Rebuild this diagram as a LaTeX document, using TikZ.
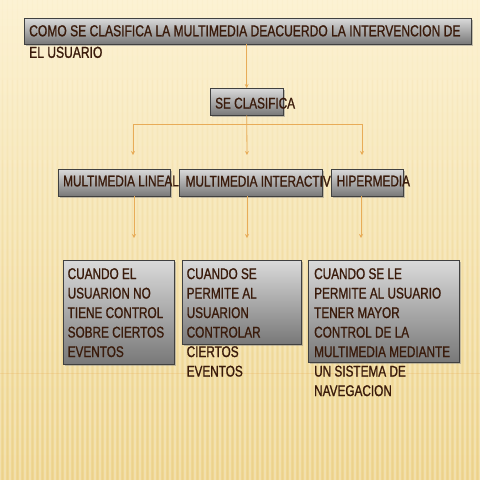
\documentclass[tikz,border=0pt]{standalone}
\usepackage{fontspec}
\setmainfont[FakeStretch=0.76,FakeBold=1.1]{Liberation Sans}
\usetikzlibrary{shadows,arrows.meta}

\definecolor{fondoarriba}{HTML}{FCF2D3}
\definecolor{fondoabajo}{HTML}{EFD691}
\definecolor{raya}{HTML}{E3C57A}
\definecolor{flecha}{HTML}{E8AC58}
\definecolor{letra}{HTML}{3A1B0B}
\definecolor{cajaclara}{HTML}{DADADA}
\definecolor{cajaoscura}{HTML}{787878}

\tikzset{
  caja/.style={draw=black!75, top color=cajaclara, bottom color=cajaoscura,
    drop shadow={opacity=0.45, shadow xshift=2pt, shadow yshift=-2pt},
    inner sep=0pt, anchor=north west},
  texto/.style={anchor=north west, inner sep=0pt, text=letra, align=left,
    font=\fontsize{15.5}{19.5}\selectfont},
  flechita/.style={draw=flecha, line width=0.8pt, -{Stealth[length=4pt,width=4pt]}},
  linea/.style={draw=flecha, line width=0.8pt}
}

\begin{document}
\begin{tikzpicture}[x=1pt,y=-1pt]
  % Fondo
  \useasboundingbox (0,0) rectangle (480,480);
  \fill[top color=fondoarriba, bottom color=fondoabajo] (0,0) rectangle (480,480);
  \foreach \y/\o in {0/0.04,80/0.08,160/0.12,240/0.16,320/0.2,400/0.24} {
    \foreach \x in {0,5,...,480} {
      \draw[white, opacity=\o, line width=1.6pt] (\x,\y) -- (\x,\y+80);
      \draw[raya, opacity=\o, line width=0.8pt] (\x+2.5,\y) -- (\x+2.5,\y+80);
    }
  }
  \draw[flecha, opacity=0.25] (0,373) -- (480,373);

  % Cajas
  \node[caja, minimum width=447pt, minimum height=26pt] (titulo) at (24,18) {};
  \node[caja, minimum width=73pt, minimum height=27pt] (clasifica) at (210,88) {};
  \node[caja, minimum width=112pt, minimum height=27pt] (lineal) at (58,169) {};
  \node[caja, minimum width=143pt, minimum height=27pt] (interactiva) at (179,169) {};
  \node[caja, minimum width=72pt, minimum height=27pt] (hiper) at (331,169) {};
  \node[caja, minimum width=111pt, minimum height=104pt] (desclineal) at (63,260) {};
  \node[caja, minimum width=119pt, minimum height=84pt] (descinter) at (182,260) {};
  \node[caja, minimum width=151pt, minimum height=102pt] (deschiper) at (308,260) {};

  % Textos
  \node[texto, font=\fontsize{15.9}{21.5}\selectfont] (ttitulo) at (29,25)
    {COMO SE CLASIFICA LA MULTIMEDIA DEACUERDO LA INTERVENCION DE\\EL USUARIO};
  \node[texto] (tclasifica) at (215,97.5) {SE CLASIFICA};
  \node[texto] (tlineal) at (63,175.5) {MULTIMEDIA LINEAL};
  \node[texto] (tinteractiva) at (185.5,175.5) {MULTIMEDIA INTERACTIV};
  \node[texto] (thiper) at (336.5,175.5) {HIPERMEDIA};
  \node[texto] (tdesclineal) at (67.5,268)
    {CUANDO EL\\USUARION NO\\TIENE CONTROL\\SOBRE CIERTOS\\EVENTOS};
  \node[texto] (tdescinter) at (186.5,268)
    {CUANDO SE\\PERMITE AL\\USUARION\\CONTROLAR\\CIERTOS\\EVENTOS};
  \node[texto] (tdeschiper) at (314,268)
    {CUANDO SE LE\\PERMITE AL USUARIO\\TENER MAYOR\\CONTROL DE LA\\MULTIMEDIA MEDIANTE\\UN SISTEMA DE\\NAVEGACION};

  % Conectores
  \coordinate (rama1) at (133,124);
  \coordinate (rama3) at (362,124);
  \coordinate (punta1) at (133,155);
  \coordinate (punta2) at (247,155);
  \coordinate (punta3) at (362,155);
  \coordinate (bajo1) at (134,238);
  \coordinate (bajo2) at (247,238);
  \coordinate (bajo3) at (361,238);

  \draw[flechita] (titulo.south -| clasifica) -- (clasifica.north);
  \draw[linea] (rama1) -- (rama3);
  \draw[flechita] (clasifica.south) -- (punta2);
  \draw[flechita] (rama1) -- (punta1);
  \draw[flechita] (rama3) -- (punta3);
  \draw[flechita] (lineal.south -| bajo1) -- (bajo1);
  \draw[flechita] (interactiva.south -| bajo2) -- (bajo2);
  \draw[flechita] (hiper.south -| bajo3) -- (bajo3);
\end{tikzpicture}
\end{document}
